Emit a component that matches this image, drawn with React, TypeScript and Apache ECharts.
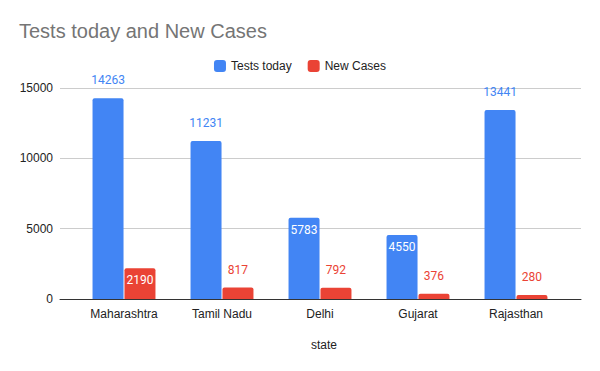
import React, { useEffect, useRef } from "react";
import * as echarts from "echarts";

const categories = ["Maharashtra", "Tamil Nadu", "Delhi", "Gujarat", "Rajasthan"];
const testsToday = [14263, 11231, 5783, 4550, 13441];
const newCases = [2190, 817, 792, 376, 280];
// label placement per bar: true = inside the top of the bar
const testsInside = [false, false, true, true, false];
const casesInside = [true, false, false, false, false];
const yTicks = { min: 0, max: 15000, interval: 5000 };

const BLUE = "#4285F4";
const RED = "#EA4335";
const FONT = "'Liberation Sans', Arial, sans-serif";

function makeData(values: number[], inside: boolean[], color: string) {
  return values.map((v, i) => ({
    value: v,
    label: inside[i]
      ? { position: "insideTop", distance: 6, color: "#ffffff" }
      : { position: "top", distance: 12, color },
  }));
}

export default function App() {
  const ref = useRef<HTMLDivElement>(null);
  useEffect(() => {
    if (!ref.current) return;
    const chart = echarts.init(ref.current, null, { renderer: "svg" });
    chart.setOption({
      animation: false,
      backgroundColor: "#ffffff",
      title: {
        text: "Tests today and New Cases",
        left: 14,
        top: 16,
        textStyle: { fontFamily: FONT, fontSize: 20, fontWeight: "normal", color: "#757575" },
      },
      legend: {
        top: 55,
        left: "center",
        itemWidth: 12,
        itemHeight: 12,
        itemGap: 16,
        icon: "roundRect",
        textStyle: { fontFamily: FONT, fontSize: 12, color: "#222222" },
        data: ["Tests today", "New Cases"],
      },
      grid: [
        { left: 60, right: 19, top: 88, bottom: 72 },
        { left: 75, right: 35, top: 88, bottom: 72 },
      ],
      xAxis: [
        {
          gridIndex: 0,
          type: "value",
          min: 0,
          max: 1,
          axisLine: { show: true, lineStyle: { color: "#333333", width: 1 } },
          axisTick: { show: false },
          axisLabel: { show: false },
          splitLine: { show: false },
        },
        {
          gridIndex: 1,
          type: "category",
          data: categories,
          axisLine: { show: false },
          axisTick: { show: false },
          axisLabel: { fontFamily: FONT, fontSize: 12, color: "#222222", margin: 9 },
          name: "state",
          nameLocation: "middle",
          nameGap: 40,
          nameTextStyle: { fontFamily: FONT, fontSize: 12, color: "#222222", padding: [0, 0, 0, 8] },
        },
      ],
      yAxis: [
        {
          gridIndex: 0,
          type: "value",
          min: yTicks.min,
          max: yTicks.max,
          interval: yTicks.interval,
          axisLine: { show: false },
          axisTick: { show: false },
          axisLabel: {
            fontFamily: FONT,
            fontSize: 12,
            color: "#222222",
            margin: 7,
            formatter: (v: number) => String(v),
          },
          splitLine: { lineStyle: { color: "#cccccc", width: 1 } },
        },
        {
          gridIndex: 1,
          type: "value",
          min: yTicks.min,
          max: yTicks.max,
          interval: yTicks.interval,
          show: false,
          splitLine: { show: false },
        },
      ],
      series: [
        {
          name: "Tests today",
          type: "bar",
          xAxisIndex: 1,
          yAxisIndex: 1,
          barWidth: 31,
          barGap: "3%",
          itemStyle: { color: BLUE, borderRadius: [2, 2, 0, 0] },
          label: { show: true, fontFamily: "Roboto, sans-serif", fontSize: 12 },
          data: makeData(testsToday, testsInside, BLUE),
        },
        {
          name: "New Cases",
          type: "bar",
          xAxisIndex: 1,
          yAxisIndex: 1,
          barWidth: 31,
          barGap: "3%",
          itemStyle: { color: RED, borderRadius: [2, 2, 0, 0] },
          label: { show: true, fontFamily: "Roboto, sans-serif", fontSize: 12 },
          data: makeData(newCases, casesInside, RED),
        },
      ],
    });
    return () => chart.dispose();
  }, []);
  return (
    <div
      ref={ref}
      style={{ position: "absolute", left: 0, top: 0, width: 600, height: 371 }}
    />
  );
}
